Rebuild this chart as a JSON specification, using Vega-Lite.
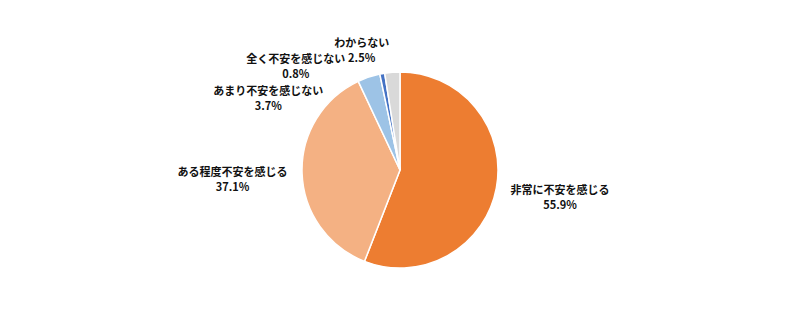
{
  "$schema": "https://vega.github.io/schema/vega-lite/v6.json",
  "width": 800,
  "height": 286,
  "autosize": "none",
  "padding": {"top": 27, "left": 0, "right": 0, "bottom": 0},
  "background": "white",
  "config": {"view": {"stroke": null}},
  "data": {"values": [
    {"idx": 1, "cat": "非常に不安を感じる", "pct": 55.9, "label": "非常に不安を感じる\n55.9%"},
    {"idx": 2, "cat": "ある程度不安を感じる", "pct": 37.1, "label": "ある程度不安を感じる\n37.1%"},
    {"idx": 3, "cat": "あまり不安を感じない", "pct": 3.7, "label": "あまり不安を感じない\n3.7%"},
    {"idx": 4, "cat": "全く不安を感じない", "pct": 0.8, "label": "全く不安を感じない\n0.8%"},
    {"idx": 5, "cat": "わからない", "pct": 2.5, "label": "わからない\n2.5%"}
  ]},
  "transform": [
    {"stack": "pct", "groupby": [], "sort": [{"field": "idx", "order": "ascending"}], "as": ["t0", "t1"]}
  ],
  "encoding": {
    "theta": {"field": "t0", "type": "quantitative", "scale": {"domain": [0, 100]}}
  },
  "layer": [
    {
      "mark": {"type": "arc", "radius": 98, "stroke": "white", "strokeWidth": 1.5},
      "encoding": {
        "theta2": {"field": "t1"},
        "color": {
          "field": "cat", "type": "nominal",
          "scale": {
            "domain": ["非常に不安を感じる", "ある程度不安を感じる", "あまり不安を感じない", "全く不安を感じない", "わからない"],
            "range": ["#ED7D31", "#F4B183", "#9DC3E6", "#4472C4", "#D9D9D9"]
          },
          "legend": null
        }
      }
    },
    {
      "transform": [{"filter": "datum.idx === 1"}],
      "mark": {"type": "text", "radius": 98, "dx": 160, "dy": 119, "font": "Noto Sans CJK JP", "fontWeight": "bold", "fontSize": 11, "lineBreak": "\n", "lineHeight": 15, "align": "center", "baseline": "middle", "color": "#111111"},
      "encoding": {"text": {"field": "label"}}
    },
    {
      "transform": [{"filter": "datum.idx === 2"}],
      "mark": {"type": "text", "radius": 98, "dx": -132, "dy": -88, "font": "Noto Sans CJK JP", "fontWeight": "bold", "fontSize": 11, "lineBreak": "\n", "lineHeight": 15, "align": "center", "baseline": "middle", "color": "#111111"},
      "encoding": {"text": {"field": "label"}}
    },
    {
      "transform": [{"filter": "datum.idx === 3"}],
      "mark": {"type": "text", "radius": 98, "dx": -90, "dy": 11, "font": "Noto Sans CJK JP", "fontWeight": "bold", "fontSize": 11, "lineBreak": "\n", "lineHeight": 15, "align": "center", "baseline": "middle", "color": "#111111"},
      "encoding": {"text": {"field": "label"}}
    },
    {
      "transform": [{"filter": "datum.idx === 4"}],
      "mark": {"type": "text", "radius": 98, "dx": -84, "dy": -14, "font": "Noto Sans CJK JP", "fontWeight": "bold", "fontSize": 11, "lineBreak": "\n", "lineHeight": 15, "align": "center", "baseline": "middle", "color": "#111111"},
      "encoding": {"text": {"field": "label"}}
    },
    {
      "transform": [{"filter": "datum.idx === 5"}],
      "mark": {"type": "text", "radius": 98, "dx": -23, "dy": -29, "font": "Noto Sans CJK JP", "fontWeight": "bold", "fontSize": 11, "lineBreak": "\n", "lineHeight": 15, "align": "center", "baseline": "middle", "color": "#111111"},
      "encoding": {"text": {"field": "label"}}
    }
  ]
}
